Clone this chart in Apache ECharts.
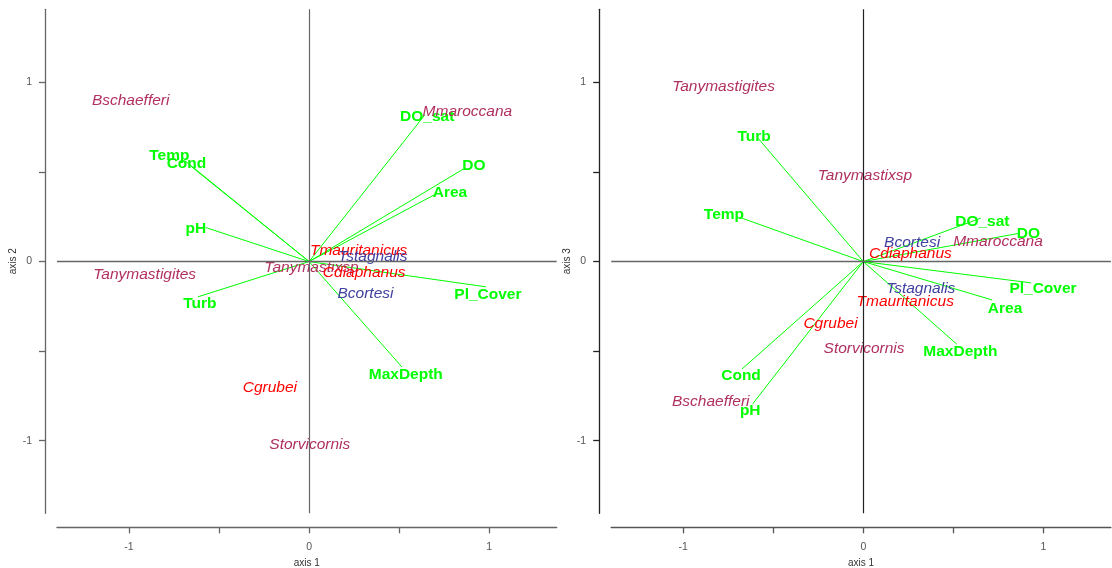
<!DOCTYPE html>
<html>
<head>
<meta charset="utf-8">
<script src="https://cdn.jsdelivr.net/npm/echarts@6/dist/echarts.min.js"></script>
<style>
  html, body { margin: 0; padding: 0; background: #ffffff; }
  #chart { width: 1112px; height: 568px; }
</style>
</head>
<body>
<div id="chart"></div>
<script>
// ---- Environmental variables (arrows) ----
const envVars = ['Temp', 'Cond', 'pH', 'Turb', 'DO_sat', 'DO', 'Area', 'Pl_Cover', 'MaxDepth'];
// panel 1: axis 1 vs axis 2 (arrow tips)
const envTipAx1_p12 = [-0.685, -0.666, -0.574, -0.618, 0.643, 0.856, 0.704, 0.982, 0.515];
const envTipAx2_p12 = [0.559, 0.540, 0.190, -0.197, 0.819, 0.516, 0.377, -0.141, -0.588];
// panel 1 label anchors
const envLabAx1_p12 = [-0.776, -0.681, -0.629, -0.607, 0.656, 0.915, 0.782, 0.993, 0.537];
const envLabAx2_p12 = [0.601, 0.555, 0.194, -0.225, 0.819, 0.545, 0.391, -0.175, -0.621];
// panel 2: axis 1 vs axis 3 (arrow tips)
const envTipAx1_p13 = [-0.673, -0.674, -0.614, -0.585, 0.652, 0.867, 0.715, 0.932, 0.519];
const envTipAx3_p13 = [0.242, -0.600, -0.794, 0.689, 0.242, 0.158, -0.214, -0.119, -0.461];
// panel 2 label anchors
const envLabAx1_p13 = [-0.774, -0.679, -0.628, -0.606, 0.661, 0.917, 0.787, 0.998, 0.539];
const envLabAx3_p13 = [0.270, -0.628, -0.822, 0.703, 0.229, 0.164, -0.256, -0.143, -0.497];

// ---- Species ----
const species = ['Bschaefferi', 'Mmaroccana', 'Tmauritanicus', 'Tstagnalis', 'Tanymastixsp',
                 'Cdiaphanus', 'Tanymastigites', 'Bcortesi', 'Cgrubei', 'Storvicornis'];
const speciesGroup = [0, 0, 1, 2, 0, 1, 0, 2, 1, 0];
const groupColors = ['#B03060', '#FF0000', '#4040A0'];
const spAx1_p12 = [-0.991, 0.879, 0.275, 0.354, 0.013, 0.306, -0.913, 0.313, -0.218, 0.004];
const spAx2_p12 = [0.908, 0.843, 0.071, 0.033, -0.028, -0.056, -0.063, -0.171, -0.694, -1.012];
const spAx1_p13 = [-0.847, 0.748, 0.233, 0.319, 0.009, 0.262, -0.776, 0.271, -0.182, 0.004];
const spAx3_p13 = [-0.773, 0.121, -0.214, -0.143, 0.485, 0.052, 0.982, 0.112, -0.338, -0.480];

// ---- Axes ----
const tickValues = [-1, -0.5, 0, 0.5, 1];
const tickLabelValues = [-1, 0, 1];
const xRange = [-1.4, 1.375];
const yRange = [-1.405, 1.408];

const FONT = '"Liberation Sans", Arial, Helvetica, sans-serif';
const GREEN = '#00FF00';

function makeX(idx, axisColor) {
  return {
    type: 'value', gridIndex: idx, min: xRange[0], max: xRange[1],
    position: 'bottom', offset: 14,
    name: 'axis 1', nameLocation: 'middle', nameGap: 31,
    nameTextStyle: { fontSize: 10, color: '#333', fontFamily: FONT },
    axisLine: { show: true, onZero: false, lineStyle: { color: axisColor, width: 1.3 } },
    axisTick: { show: true, length: 6, customValues: tickValues, lineStyle: { color: axisColor, width: 1.3 } },
    axisLabel: { customValues: tickLabelValues, fontSize: 10.5, color: '#555', margin: 14, fontFamily: FONT },
    splitLine: { show: false }
  };
}
function makeY(idx, name, axisColor) {
  return {
    type: 'value', gridIndex: idx, min: yRange[0], max: yRange[1],
    position: 'left', offset: 12,
    name: name, nameLocation: 'middle', nameGap: 27, nameRotate: 90,
    nameTextStyle: { fontSize: 10, color: '#333', fontFamily: FONT },
    axisLine: { show: true, onZero: false, lineStyle: { color: axisColor, width: 1.3 } },
    axisTick: { show: true, length: 6, customValues: tickValues, lineStyle: { color: axisColor, width: 1.3 } },
    axisLabel: { customValues: tickLabelValues, fontSize: 10.5, color: '#555', margin: 13, fontFamily: FONT },
    splitLine: { show: false }
  };
}

function panelSeries(idx, tipX, tipY, labX, labY, spX, spY, vColor, hColor) {
  return [
    { // zero reference lines
      type: 'scatter', xAxisIndex: idx, yAxisIndex: idx, data: [[0, 0]], symbolSize: 0, silent: true, z: 1,
      markLine: {
        silent: true, symbol: ['none', 'none'], label: { show: false }, animation: false,
        data: [
          { xAxis: 0, lineStyle: { color: vColor, width: 1.2, type: 'solid', opacity: 1 } },
          { yAxis: 0, lineStyle: { color: hColor, width: 1.4, type: 'solid', opacity: 1 } }
        ]
      }
    },
    { // arrows
      type: 'lines', coordinateSystem: 'cartesian2d', xAxisIndex: idx, yAxisIndex: idx, z: 2, silent: true,
      lineStyle: { color: GREEN, width: 1, opacity: 1, curveness: 0 },
      data: envVars.map((n, k) => ({ coords: [[0, 0], [tipX[k], tipY[k]]] }))
    },
    { // variable labels
      type: 'scatter', xAxisIndex: idx, yAxisIndex: idx, z: 3, symbolSize: 0, silent: true,
      itemStyle: { opacity: 1 },
      data: envVars.map((n, k) => ({ name: n, value: [labX[k], labY[k]] })),
      label: { show: true, position: 'inside', formatter: '{b}', color: GREEN, fontWeight: 'bold',
               fontSize: 15.5, fontFamily: FONT, opacity: 1, offset: [0, 1.5] }
    },
    { // species labels
      type: 'scatter', xAxisIndex: idx, yAxisIndex: idx, z: 4, symbolSize: 0, silent: true,
      itemStyle: { opacity: 1 },
      data: species.map((n, k) => ({
        name: n, value: [spX[k], spY[k]],
        label: { color: groupColors[speciesGroup[k]] }
      })),
      label: { show: true, position: 'inside', formatter: '{b}', fontStyle: 'italic',
               fontSize: 15.5, fontFamily: FONT, opacity: 1, offset: [0, 1.5] }
    }
  ];
}

const chart = echarts.init(document.getElementById('chart'), null, { renderer: 'canvas' });
chart.setOption({
  animation: false,
  backgroundColor: '#ffffff',
  grid: [
    { left: 57, top: 9.3, width: 499.7, height: 504, outerBoundsMode: 'none', containLabel: false },
    { left: 611.2, top: 9.3, width: 499.7, height: 504, outerBoundsMode: 'none', containLabel: false }
  ],
  xAxis: [makeX(0, '#666'), makeX(1, '#555')],
  yAxis: [makeY(0, 'axis 2', '#666'), makeY(1, 'axis 3', '#222')],
  series: [
    ...panelSeries(0, envTipAx1_p12, envTipAx2_p12, envLabAx1_p12, envLabAx2_p12, spAx1_p12, spAx2_p12, '#666', '#666'),
    ...panelSeries(1, envTipAx1_p13, envTipAx3_p13, envLabAx1_p13, envLabAx3_p13, spAx1_p13, spAx3_p13, '#222', '#666')
  ]
});
</script>
</body>
</html>
